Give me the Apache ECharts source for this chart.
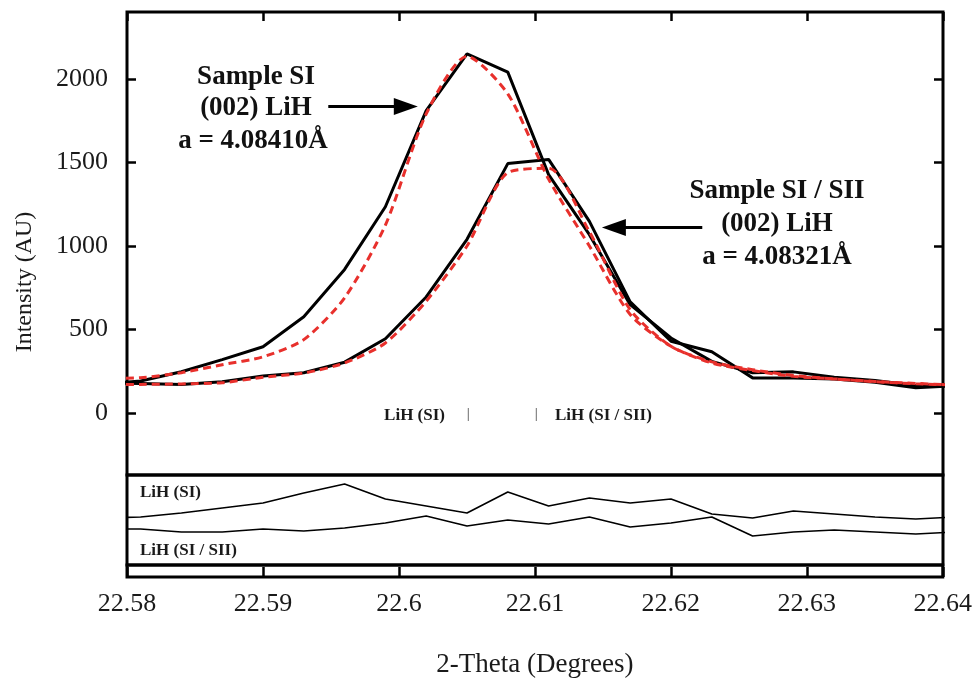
<!DOCTYPE html>
<html>
<head>
<meta charset="utf-8">
<script src="https://cdn.jsdelivr.net/npm/echarts@6/dist/echarts.min.js"></script>
<style>
html, body {margin: 0; padding: 0; background: #fff;}
#chart {width: 975px; height: 679px;}
</style>
</head>
<body>
<div id="chart"></div>
<script>
// 2-theta positions of the scan (deg)
var theta = [22.578, 22.581, 22.584, 22.587, 22.590, 22.593, 22.596, 22.599, 22.602, 22.605, 22.608,
    22.611, 22.614, 22.617, 22.620, 22.623, 22.626, 22.629, 22.632, 22.635, 22.638, 22.641];

// measured and fitted intensity, sample SI
var siObs = [175, 192, 248, 320, 397, 577, 860, 1235, 1810, 2150, 2040, 1427, 1068, 649, 450, 310, 242, 247, 215, 195, 165, 172];
var siFit = [205, 212, 242, 290, 337, 440, 690, 1125, 1790, 2135, 1910, 1400, 1000, 590, 400, 300, 255, 220, 205, 190, 178, 168];

// measured and fitted intensity, sample SI / SII
var siiObs = [182, 178, 172, 188, 222, 242, 305, 445, 695, 1040, 1493, 1518, 1147, 666, 430, 367, 211, 211, 205, 185, 152, 165];
var siiFit = [170, 172, 175, 182, 215, 240, 300, 420, 670, 1000, 1439, 1465, 1085, 619, 400, 307, 260, 225, 205, 188, 176, 168];

// difference curves (offset)
var siResid = [12, 18, 42, 72, 102, 162, 216, 126, 84, 42, 168, 84, 132, 102, 126, 36, 12, 54, 36, 18, 6, 18];
var siiResid = [-54, -54, -72, -72, -54, -66, -48, -18, 24, -36, 0, -24, 18, -42, -18, 18, -96, -72, -60, -72, -84, -72];

var xTicks = [22.58, 22.59, 22.6, 22.61, 22.62, 22.63, 22.64];
var yTicks = [0, 500, 1000, 1500, 2000];
var peakPos = [22.6051, 22.6101];
var peakNames = ["LiH (SI)", "LiH (SI / SII)"];

function pairs(ys) {
    return theta.map(function(t, i) { return [t, ys[i]]; });
}

var serif = "Liberation Serif";
var ink = "#1a1a1a";
var red = "#e8302c";
var boldFont = "bold 27px 'Liberation Serif'";
var smallFont = "bold 17px 'Liberation Serif'";

var chart = echarts.init(document.getElementById("chart"));

var option = {
    animation: false,
    backgroundColor: "#fff",
    grid: [
        {left: 127, right: 32, top: 12, height: 463, show: true, borderColor: "#000", borderWidth: 3},
        {left: 127, right: 32, top: 475, height: 90, show: true, borderColor: "#000", borderWidth: 3},
        {left: 127, right: 32, top: 565, height: 15, show: true, borderColor: "#000", borderWidth: 3}
    ],
    xAxis: [
        {gridIndex: 0, type: "value", min: 22.58, max: 22.64, position: "top",
            axisLine: {show: false, onZero: false}, splitLine: {show: false}, axisLabel: {show: false},
            axisTick: {inside: true, length: 9, lineStyle: {color: "#000", width: 2.5}, customValues: xTicks}},
        {gridIndex: 1, type: "value", min: 22.58, max: 22.64, show: false},
        {gridIndex: 2, type: "value", min: 22.58, max: 22.64, position: "bottom",
            axisLine: {show: false, onZero: false}, splitLine: {show: false},
            axisTick: {inside: true, length: 10, lineStyle: {color: "#000", width: 2.5}, customValues: xTicks},
            axisLabel: {customValues: xTicks, margin: 14, color: ink, fontFamily: serif, fontSize: 26},
            name: "2-Theta (Degrees)", nameLocation: "middle", nameGap: 74,
            nameTextStyle: {color: ink, fontFamily: serif, fontSize: 27}}
    ],
    yAxis: [
        {gridIndex: 0, type: "value", min: -370, max: 2400, position: "left",
            axisLine: {show: false, onZero: false}, splitLine: {show: false},
            axisTick: {inside: true, length: 9, lineStyle: {color: "#000", width: 2.5}, customValues: yTicks},
            axisLabel: {customValues: yTicks, margin: 19, color: ink, fontFamily: serif, fontSize: 26,
                formatter: function(v) { return String(v); }}},
        {gridIndex: 0, type: "value", min: -370, max: 2400, position: "right",
            axisLine: {show: false, onZero: false}, splitLine: {show: false}, axisLabel: {show: false},
            axisTick: {inside: true, length: 9, lineStyle: {color: "#000", width: 2.5}, customValues: yTicks}},
        {gridIndex: 1, type: "value", min: -270, max: 270, show: false},
        {gridIndex: 2, type: "value", min: 0, max: 1, show: false}
    ],
    series: [
        {name: "SI", type: "line", xAxisIndex: 0, yAxisIndex: 0, data: pairs(siObs),
            showSymbol: false, clip: true, lineStyle: {color: "#000", width: 3}, z: 2,
            markLine: {silent: true, symbol: ["none", "triangle"], symbolSize: [17, 24], label: {show: false},
                lineStyle: {color: "#000", width: 3, type: "solid", opacity: 1},
                itemStyle: {color: "#000"},
                data: [
                    [{coord: [22.5948, 1834]}, {coord: [22.6005, 1834]}],
                    [{coord: [22.6223, 1110]}, {coord: [22.6158, 1110]}]
                ]}},
        {name: "SI / SII", type: "line", xAxisIndex: 0, yAxisIndex: 0, data: pairs(siiObs),
            showSymbol: false, clip: true, lineStyle: {color: "#000", width: 3}, z: 2},
        {name: "SI fit", type: "line", xAxisIndex: 0, yAxisIndex: 0, data: pairs(siFit),
            showSymbol: false, clip: true, smooth: 0.25,
            lineStyle: {color: red, width: 3, type: [8, 5]}, z: 3},
        {name: "SI / SII fit", type: "line", xAxisIndex: 0, yAxisIndex: 0, data: pairs(siiFit),
            showSymbol: false, clip: true, smooth: 0.25,
            lineStyle: {color: red, width: 3, type: [8, 5]}, z: 3},
        {name: "peaks", type: "scatter", xAxisIndex: 0, yAxisIndex: 0,
            data: peakPos.map(function(p) { return [p, -8]; }),
            symbol: "rect", symbolSize: [1.2, 13], itemStyle: {color: "#666"}, silent: true, z: 4}
    ].concat([
        {name: "SI diff", type: "line", xAxisIndex: 1, yAxisIndex: 2, data: pairs(siResid),
            showSymbol: false, clip: true, lineStyle: {color: "#000", width: 1.6}},
        {name: "SI / SII diff", type: "line", xAxisIndex: 1, yAxisIndex: 2, data: pairs(siiResid),
            showSymbol: false, clip: true, lineStyle: {color: "#000", width: 1.6}}
    ]),
    graphic: [
        {type: "text", x: 25, y: 282, rotation: Math.PI / 2,
            style: {text: "Intensity (AU)", fill: ink, align: "center", verticalAlign: "middle", font: "24px 'Liberation Serif'"}},
        {type: "text", x: 445, y: 416, style: {text: peakNames[0], fill: ink, align: "right", verticalAlign: "middle", font: smallFont}},
        {type: "text", x: 555, y: 416, style: {text: peakNames[1], fill: ink, align: "left", verticalAlign: "middle", font: smallFont}},
        {type: "text", left: 140, top: 484, style: {text: "LiH (SI)", fill: ink, font: smallFont}},
        {type: "text", left: 140, top: 542, style: {text: "LiH (SI / SII)", fill: ink, font: smallFont}},
        {type: "text", x: 256, y: 77, style: {text: "Sample SI", fill: "#111", align: "center", verticalAlign: "middle", font: boldFont}},
        {type: "text", x: 256, y: 108, style: {text: "(002) LiH", fill: "#111", align: "center", verticalAlign: "middle", font: boldFont}},
        {type: "text", x: 253, y: 141, style: {text: "a = 4.08410Å", fill: "#111", align: "center", verticalAlign: "middle", font: boldFont}},
        {type: "text", x: 777, y: 191, style: {text: "Sample SI / SII", fill: "#111", align: "center", verticalAlign: "middle", font: boldFont}},
        {type: "text", x: 777, y: 224, style: {text: "(002) LiH", fill: "#111", align: "center", verticalAlign: "middle", font: boldFont}},
        {type: "text", x: 777, y: 257, style: {text: "a = 4.08321Å", fill: "#111", align: "center", verticalAlign: "middle", font: boldFont}}
    ]
};

chart.setOption(option);
</script>
</body>
</html>
